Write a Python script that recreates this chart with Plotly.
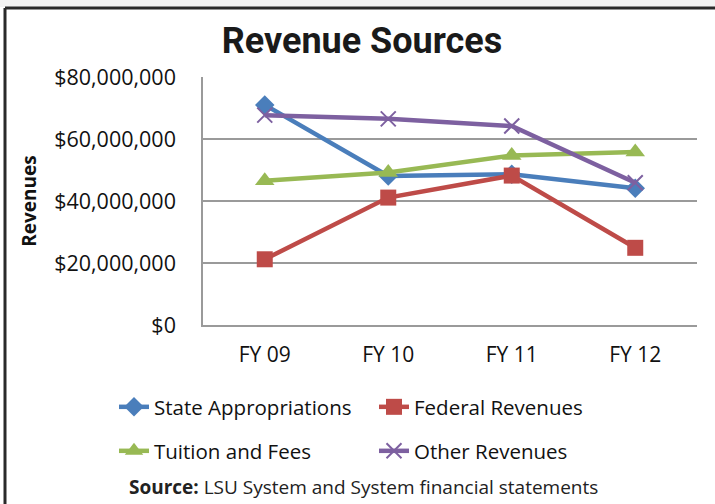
import plotly.graph_objects as go

categories = ["FY 09", "FY 10", "FY 11", "FY 12"]
state_appropriations = [71000000, 48100000, 48600000, 44100000]
federal_revenues = [21200000, 41100000, 48200000, 24900000]
tuition_and_fees = [46500000, 49200000, 54700000, 55800000]
other_revenues = [67700000, 66500000, 64200000, 45900000]
y_tick_values = [0, 20000000, 40000000, 60000000, 80000000]
y_tick_labels = ["$0", "$20,000,000", "$40,000,000", "$60,000,000", "$80,000,000"]

W, H = 715, 504
L, R, T, B = 203, 18, 77, 179
PW, PH = W - L - R, H - T - B

def px_x(p):
    return (p - L) / PW

def px_y(p):
    return (H - B - p) / PH

FONT = "Open Sans"

series = [
    ("State Appropriations", state_appropriations, "#4A7EBB", dict(symbol="diamond", size=15), "legend"),
    ("Federal Revenues", federal_revenues, "#BE4B48", dict(symbol="square", size=16), "legend"),
    ("Tuition and Fees", tuition_and_fees, "#98B954", dict(symbol="triangle-up", size=17), "legend2"),
    ("Other Revenues", other_revenues, "#7D60A0", dict(symbol="x-thin", size=15, line=dict(width=2, color="#7D60A0")), "legend2"),
]

fig = go.Figure()
for name, vals, color, mk, lg in series:
    fig.add_trace(go.Scatter(
        x=categories, y=vals, name=name, mode="lines+markers",
        line=dict(color=color, width=4.5),
        marker=dict(color=color, **mk),
        legend=lg,
    ))

legend_common = dict(
    orientation="h", xanchor="left", yanchor="middle",
    entrywidth=215, entrywidthmode="pixels",
    font=dict(family=FONT, size=20.5, color="#111"),
    bgcolor="rgba(0,0,0,0)", itemclick=False,
)

fig.update_layout(
    width=W, height=H,
    margin=dict(l=L, r=R, t=T, b=B),
    paper_bgcolor="white", plot_bgcolor="white",
    title=dict(text="<b>Revenue Sources</b>", x=362 / W, xanchor="center",
               y=1 - 40 / H, yanchor="middle", xref="container", yref="container",
               font=dict(family="Roboto", size=36, color="#1a1a1a")),
    legend=dict(x=px_x(114), y=px_y(407), **legend_common),
    legend2=dict(x=px_x(114), y=px_y(451), **legend_common),
    xaxis=dict(
        type="category", range=[-0.5, 3.5],
        showline=True, linecolor="#9a9a9a", linewidth=1.5,
        showgrid=False, ticks="",
        tickfont=dict(family=FONT, size=21, color="#111"),
        ticklabelstandoff=10,
    ),
    yaxis=dict(
        range=[0, 80000000], tickmode="array",
        tickvals=y_tick_values, ticktext=y_tick_labels,
        showline=True, linecolor="#9a9a9a", linewidth=1.5,
        showgrid=True, gridcolor="#9a9a9a", gridwidth=1.5,
        zeroline=False, ticks="",
        tickfont=dict(family=FONT, size=21.5, color="#111"),
        ticklabelstandoff=21,
        title=dict(text="<b>Revenues</b>", standoff=13,
                   font=dict(family=FONT, size=19, color="#111")),
    ),
    annotations=[dict(
        text="<b>Source:</b> LSU System and System financial statements",
        xref="paper", yref="paper", x=px_x(363), y=px_y(487),
        xanchor="center", yanchor="middle", showarrow=False,
        font=dict(family=FONT, size=19, color="#222"),
    )],
    shapes=[
        dict(type="rect", xref="paper", yref="paper", x0=px_x(0), x1=px_x(W), y0=px_y(0), y1=px_y(7),
             fillcolor="#f3f3f3", line=dict(width=0), layer="below"),
        dict(type="line", xref="paper", yref="paper", x0=px_x(5), x1=px_x(W), y0=px_y(8), y1=px_y(8),
             line=dict(color="#2a2a2a", width=3)),
        dict(type="line", xref="paper", yref="paper", x0=px_x(5), x1=px_x(5), y0=px_y(8), y1=px_y(H),
             line=dict(color="#2a2a2a", width=3)),
    ],
)

fig.write_html("out.html", config={"displayModeBar": False},
               post_script="document.body.style.margin='0';")
